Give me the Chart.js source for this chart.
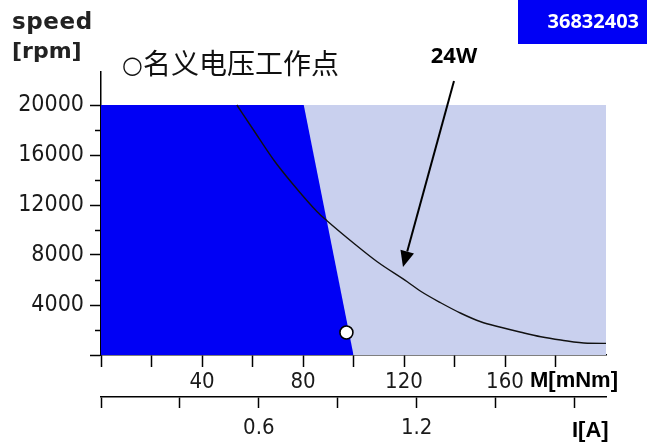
<!DOCTYPE html>
<html><head><meta charset="utf-8">
<script src="https://cdn.jsdelivr.net/npm/chart.js@4.4.1/dist/chart.umd.min.js"></script>
<style>html,body{margin:0;padding:0;background:#fff;} #wrap{position:relative;width:656px;height:443px;}</style>
</head><body><div id="wrap"><canvas id="c" width="656" height="443"></canvas></div>
<script>
// ---- data ----
const torqueTicks = [0, 20, 40, 60, 80, 100, 120, 140, 160, 180];   // M [mNm]
const torqueLabels = [40, 80, 120, 160];
const torqueRange = [0, 200];
const currentTicks = [0, 0.3, 0.6, 0.9, 1.2, 1.5, 1.8];              // I [A]
const currentLabels = [0.6, 1.2];
const currentRange = [0, 1.92];
const speedTicks = [0, 2000, 4000, 6000, 8000, 10000, 12000, 14000, 16000, 18000, 20000]; // speed [rpm]
const speedLabels = [4000, 8000, 12000, 16000, 20000];
const speedMajor = [0, 4000, 8000, 12000, 16000, 20000];
const speedRange = [0, 22640];
const permissibleRange = [{x: 0, y: 20000}, {x: 200, y: 20000}];
const continuousRange = [{x: 0, y: 20000}, {x: 80.3, y: 20000}, {x: 100, y: 0}];
const power24W = [
  {x: 53.8, y: 20000}, {x: 60.4, y: 18000}, {x: 68.4, y: 15600}, {x: 75.7, y: 13740},
  {x: 85.6, y: 11460}, {x: 89.6, y: 10720}, {x: 100.1, y: 8940}, {x: 109.4, y: 7460},
  {x: 121.3, y: 5860}, {x: 126.6, y: 5100}, {x: 134.5, y: 4180}, {x: 142.5, y: 3340},
  {x: 150.4, y: 2660}, {x: 158.3, y: 2220}, {x: 166.3, y: 1820}, {x: 174.2, y: 1460},
  {x: 182.1, y: 1200}, {x: 192.7, y: 940}, {x: 200, y: 930}
];
const nominalPoint = [{x: 97.2, y: 1800}];
const arrowFrom = {x: 139.8, y: 21920};
const arrowTo = {x: 119.6, y: 7040};
const label24W = {x: 139.8, y: 24000, text: '24W'};
const titleMark = '○';
const titleText = '名义电压工作点';
const idText = '36832403';

const tickFont = "'Liberation Sans Narrow', 'DejaVu Sans Condensed', sans-serif";
const DARK = '#0000f5';
const LIGHT = '#c9d0ee';

const decor = {
  id: 'decor',
  afterDraw(chart) {
    const {ctx, scales: {x, y}} = chart;
    ctx.save();
    // minor speed ticks (shorter)
    ctx.strokeStyle = '#000'; ctx.lineWidth = 1.5;
    speedTicks.filter(v => !speedMajor.includes(v)).forEach(v => {
      const py = Math.round(y.getPixelForValue(v)) + 0.5;
      ctx.beginPath(); ctx.moveTo(x.left - 6, py); ctx.lineTo(x.left, py); ctx.stroke();
    });
    // arrow
    const x1 = x.getPixelForValue(arrowFrom.x), y1 = y.getPixelForValue(arrowFrom.y);
    const x2 = x.getPixelForValue(arrowTo.x), y2 = y.getPixelForValue(arrowTo.y);
    const ang = Math.atan2(y2 - y1, x2 - x1);
    const hl = 16, hw = 7;
    const bx = x2 - hl * Math.cos(ang), by = y2 - hl * Math.sin(ang);
    ctx.lineWidth = 2;
    ctx.beginPath(); ctx.moveTo(x1, y1); ctx.lineTo(bx, by); ctx.stroke();
    ctx.fillStyle = '#000';
    ctx.beginPath();
    ctx.moveTo(x2, y2);
    ctx.lineTo(bx + hw * Math.sin(ang), by - hw * Math.cos(ang));
    ctx.lineTo(bx - hw * Math.sin(ang), by + hw * Math.cos(ang));
    ctx.closePath(); ctx.fill();
    // 24W label
    ctx.font = "bold 22px 'Open Sans', sans-serif";
    ctx.textAlign = 'center'; ctx.textBaseline = 'alphabetic';
    ctx.fillText(label24W.text, x.getPixelForValue(label24W.x), y.getPixelForValue(label24W.y) + 8);
    // axis titles
    ctx.fillStyle = '#222';
    ctx.textAlign = 'left';
    ctx.font = "bold 23px 'DejaVu Sans', sans-serif";
    ctx.letterSpacing = '0.6px';
    ctx.fillText('speed', 12, 29);
    ctx.letterSpacing = '0px';
    ctx.font = "bold 22px 'DejaVu Sans', sans-serif";
    ctx.fillText('[rpm]', 12, 58);
    ctx.fillStyle = '#000';
    ctx.font = "bold 22px 'Liberation Sans', sans-serif";
    ctx.fillText('M[mNm]', 530, 387);
    ctx.fillText('I[A]', 572, 437);
    // title
    ctx.fillStyle = '#111';
    ctx.font = "24px 'DejaVu Sans', sans-serif";
    ctx.fillText(titleMark, 122, 73);
    ctx.font = "28px 'Noto Sans CJK SC', sans-serif";
    ctx.fillText(titleText, 143, 74);
    // id box
    ctx.fillStyle = '#0000f5';
    ctx.fillRect(518, 0, 129, 44);
    ctx.fillStyle = '#fff';
    ctx.font = "bold 20px 'Open Sans', sans-serif";
    ctx.textAlign = 'right';
    ctx.fillText(idText, 639, 28);
    ctx.restore();
  }
};

new Chart(document.getElementById('c'), {
  type: 'scatter',
  data: {
    datasets: [
      {data: permissibleRange, showLine: true, fill: 'origin', backgroundColor: LIGHT, borderWidth: 0, pointRadius: 0, order: 4},
      {data: continuousRange, showLine: true, fill: 'origin', backgroundColor: DARK, borderWidth: 0, pointRadius: 0, order: 3},
      {data: power24W, showLine: true, fill: false, borderColor: '#111', borderWidth: 1.4, pointRadius: 0, cubicInterpolationMode: 'monotone', order: 2},
      {data: nominalPoint, pointRadius: 6.5, pointBackgroundColor: '#fff', pointBorderColor: '#000', pointBorderWidth: 1.6, order: 1}
    ]
  },
  options: {
    responsive: false,
    animation: false,
    events: [],
    layout: {padding: {top: 72, right: 50, left: 0, bottom: 0}},
    plugins: {legend: {display: false}, tooltip: {enabled: false}},
    scales: {
      x: {
        type: 'linear', position: 'bottom', min: torqueRange[0], max: torqueRange[1],
        afterBuildTicks(s) { s.ticks = torqueTicks.map(v => ({value: v})); },
        afterFit(s) { s.height = 42; },
        border: {display: true, color: '#000', width: 1.5},
        grid: {drawOnChartArea: false, tickLength: 12, tickWidth: 1.5, tickColor: '#000'},
        ticks: {autoSkip: false, maxRotation: 0, padding: 2, color: '#1a1a1a',
          font: {family: tickFont, size: 22},
          callback: v => torqueLabels.includes(v) ? String(v) : ''}
      },
      x2: {
        type: 'linear', position: 'bottom', min: currentRange[0], max: currentRange[1],
        afterBuildTicks(s) { s.ticks = currentTicks.map(v => ({value: v})); },
        afterFit(s) { s.height = 46; },
        border: {display: true, color: '#000', width: 1.5},
        grid: {drawOnChartArea: false, tickLength: 11, tickWidth: 1.5, tickColor: '#000'},
        ticks: {autoSkip: false, maxRotation: 0, padding: 7, color: '#1a1a1a',
          font: {family: tickFont, size: 22},
          callback: v => currentLabels.some(c => Math.abs(c - v) < 1e-6) ? String(v) : ''}
      },
      y: {
        type: 'linear', position: 'left', min: speedRange[0], max: speedRange[1],
        afterBuildTicks(s) { s.ticks = speedTicks.map(v => ({value: v})); },
        afterFit(s) { s.width = 101; },
        border: {display: true, color: '#000', width: 1.5},
        grid: {drawOnChartArea: false, tickLength: 11, tickWidth: 1.5,
          tickColor: c => c.tick && speedMajor.includes(c.tick.value) ? '#000' : 'rgba(0,0,0,0)'},
        ticks: {autoSkip: false, padding: 6, color: '#1a1a1a',
          font: {family: tickFont, size: 23},
          callback: v => speedLabels.includes(v) ? String(v) : ''}
      }
    }
  },
  plugins: [decor]
});
</script>
</body></html>
